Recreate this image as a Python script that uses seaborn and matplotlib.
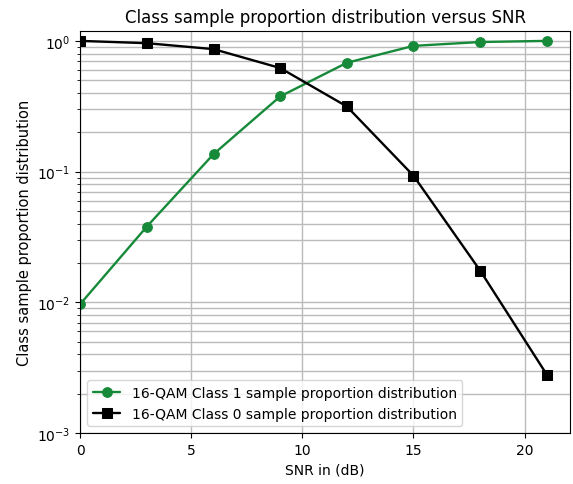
import matplotlib
matplotlib.use("Agg")
import matplotlib.pyplot as plt
import seaborn as sns
import pandas as pd

snr = [0, 3, 6, 9, 12, 15, 18, 21]
class1 = [0.0097, 0.038, 0.136, 0.376, 0.68, 0.916, 0.98, 1.0]
class0 = [1.0, 0.96, 0.865, 0.62, 0.315, 0.093, 0.0175, 0.0028]
labels = ["16-QAM Class 1 sample proportion distribution",
          "16-QAM Class 0 sample proportion distribution"]

sns.set_style("ticks")
plt.rcParams['font.family'] = ['DejaVu Sans']
plt.rcParams['text.color'] = 'black'
plt.rcParams['axes.labelcolor'] = 'black'
plt.rcParams['xtick.color'] = 'black'
plt.rcParams['ytick.color'] = 'black'

fig, ax = plt.subplots(figsize=(5.73, 4.85), dpi=100)
df1 = pd.DataFrame({"snr": snr, "v": class1})
df0 = pd.DataFrame({"snr": snr, "v": class0})
sns.lineplot(data=df1, x="snr", y="v", ax=ax, color="#178a3a", marker="o",
             markersize=7, markeredgecolor="#178a3a", linewidth=1.7, label=labels[0])
sns.lineplot(data=df0, x="snr", y="v", ax=ax, color="black", marker="s",
             markersize=7, markeredgecolor="black", linewidth=1.7, label=labels[1])
ax.set_yscale("log")
ax.set_ylim(1e-3, 1.2)
ax.set_xlim(0, 22.05)
ax.set_xticks([0, 5, 10, 15, 20])
ax.grid(True, which="both", color="#bbbbbb", linewidth=1.0)
ax.set_axisbelow(True)
ax.set_xlabel("SNR in (dB)", fontsize=10)
ax.set_ylabel("Class sample proportion distribution", fontsize=10.5)
ax.set_title("Class sample proportion distribution versus SNR", fontsize=12)
ax.tick_params(labelsize=10)
for s in ax.spines.values():
    s.set_visible(True)
    s.set_color("black")
ax.legend(loc="lower left", fontsize=10)
fig.subplots_adjust(left=0.14, right=0.995, top=0.935, bottom=0.105)
fig.savefig("out.png", dpi=100)
